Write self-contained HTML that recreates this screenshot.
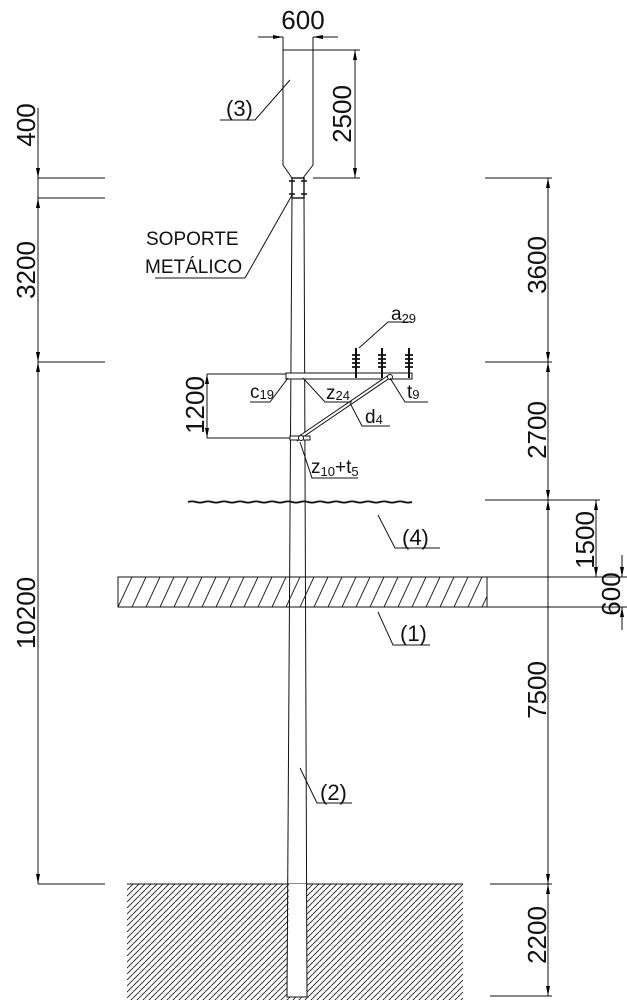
<!DOCTYPE html>
<html><head><meta charset="utf-8"><style>html,body{margin:0;padding:0;background:#fff}svg{display:block}</style></head>
<body>
<svg width="627" height="1000" viewBox="0 0 627 1000" xmlns="http://www.w3.org/2000/svg" font-family="Liberation Sans, sans-serif">
<defs>
<marker id="a" viewBox="0 0 10 4" refX="10" refY="2" markerWidth="10" markerHeight="4" markerUnits="userSpaceOnUse" orient="auto"><path d="M0,0L10,2L0,4z" fill="#000"/></marker>
<marker id="s" viewBox="0 0 10 4" refX="0" refY="2" markerWidth="10" markerHeight="4" markerUnits="userSpaceOnUse" orient="auto"><path d="M10,0L0,2L10,4z" fill="#000"/></marker>
<pattern id="h1" width="14" height="30" patternUnits="userSpaceOnUse" x="118" y="577"><path d="M-14,30L0,0M0,30L14,0M14,30L28,0" stroke="#222" stroke-width="1"/></pattern>
<pattern id="h2" width="6" height="6" patternUnits="userSpaceOnUse" x="127" y="884"><path d="M-6,6L0,0M0,6L6,0M6,6L12,0" stroke="#222" stroke-width="0.9"/></pattern>
</defs>
<g stroke="#111" stroke-width="1" fill="none">
<rect x="127" y="884" width="336" height="116" fill="url(#h2)" stroke="none"/>
<line x1="127" y1="884" x2="463" y2="884"/>
<rect x="118" y="577" width="369" height="30" fill="url(#h1)"/>
<line x1="487" y1="577" x2="627" y2="577"/><line x1="487" y1="607" x2="627" y2="607"/>
<!-- pole -->
<polygon points="289,884 306,884 307,997 287,997" fill="#fff" stroke="none"/>
<polygon points="292,198 304,198 307,997 287,997"/>
<path d="M283,50 L313,50 L313,165 L303,178 L292,178 L283,165 Z" fill="#fff"/>
<rect x="292" y="178" width="12" height="20" fill="#fff" stroke-width="1.4"/>
<path d="M289,181h6M289,194h6M301,181h6M301,194h6" stroke-width="1.5"/>
<line x1="283" y1="37" x2="283" y2="50"/><line x1="313" y1="37" x2="313" y2="50"/>
<line x1="258" y1="37" x2="283" y2="37" marker-end="url(#a)"/>
<line x1="338" y1="37" x2="313" y2="37" marker-end="url(#a)"/>
<line x1="313" y1="50" x2="360" y2="50"/><line x1="313" y1="178" x2="360" y2="178"/>
<line x1="355" y1="50" x2="355" y2="178" marker-start="url(#s)" marker-end="url(#a)"/>
<line x1="38" y1="108" x2="38" y2="178" marker-end="url(#a)"/>
<line x1="38" y1="178" x2="38" y2="198"/>
<line x1="38" y1="198" x2="38" y2="362" marker-start="url(#s)" marker-end="url(#a)"/>
<line x1="38" y1="362" x2="38" y2="884" marker-start="url(#s)" marker-end="url(#a)"/>
<path d="M38,178H105M38,198H105M38,362H105M38,884H105"/>
<path d="M485,178H552M485,362H552M485,500H600M490,884H552M490,996H552"/>
<line x1="548" y1="178" x2="548" y2="362" marker-start="url(#s)" marker-end="url(#a)"/>
<line x1="548" y1="362" x2="548" y2="500" marker-start="url(#s)" marker-end="url(#a)"/>
<line x1="548" y1="500" x2="548" y2="884" marker-start="url(#s)" marker-end="url(#a)"/>
<line x1="548" y1="884" x2="548" y2="996" marker-start="url(#s)" marker-end="url(#a)"/>
<line x1="596" y1="500" x2="596" y2="577" marker-start="url(#s)" marker-end="url(#a)"/>
<line x1="622" y1="555" x2="622" y2="577" marker-end="url(#a)"/>
<line x1="622" y1="630" x2="622" y2="607" marker-end="url(#a)"/>
<path d="M207,374H290M207,438H296"/>
<line x1="207" y1="374" x2="207" y2="438" marker-start="url(#s)" marker-end="url(#a)"/>
<rect x="286" y="373" width="126" height="6" fill="#fff"/>
<line x1="296" y1="440" x2="390" y2="376" stroke-width="4"/>
<line x1="296" y1="440" x2="390" y2="376" stroke="#fff" stroke-width="2"/>
<rect x="290" y="436" width="20" height="4" fill="#fff"/>
<circle cx="301" cy="438" r="2.5" fill="#fff"/><circle cx="390" cy="377" r="2.5" fill="#fff"/>
<g>
<path d="M356,348V378M382,348V378M409,348V378" stroke-width="2"/>
<path d="M352,355h8M352,359h8M352,363h8M352,367h8M378,355h8M378,359h8M378,363h8M378,367h8M405,355h8M405,359h8M405,363h8M405,367h8" stroke-width="1.8"/>
</g>
<path d="M188,502 q4,-1.2 8,0 t8,0 t8,0 t8,0 t8,0 t8,0 t8,0 t8,0 t8,0 t8,0 t8,0 t8,0 t8,0 t8,0 t8,0 t8,0 t8,0 t8,0 t8,0 t8,0 t8,0 t8,0 t8,0 t8,0 t8,0 t8,0 t8,0 t8,0" stroke-width="1.8"/>
<path d="M220,120H255L290,80"/>
<path d="M155,278H245L292,195"/>
<path d="M359,348L388,322H412"/>
<path d="M250,402H270L288,378"/>
<path d="M303,378L325,402H352"/>
<path d="M390,378L405,402H428"/>
<path d="M350,403L362,426H390"/>
<path d="M300,442L312,478H358"/>
<path d="M378,515L395,548H440"/>
<path d="M378,612L393,645H430"/>
<path d="M300,768L317,803H352"/>
</g>
<g fill="#111" font-size="26">
<text x="303" y="29" text-anchor="middle">600</text>
<text transform="translate(351,114) rotate(-90)" text-anchor="middle">2500</text>
<text transform="translate(35,125) rotate(-90)" text-anchor="middle">400</text>
<text transform="translate(35,270) rotate(-90)" text-anchor="middle">3200</text>
<text transform="translate(35,613) rotate(-90)" text-anchor="middle">10200</text>
<text transform="translate(204,405) rotate(-90)" text-anchor="middle">1200</text>
<text transform="translate(546,265) rotate(-90)" text-anchor="middle">3600</text>
<text transform="translate(546,430) rotate(-90)" text-anchor="middle">2700</text>
<text transform="translate(546,690) rotate(-90)" text-anchor="middle">7500</text>
<text transform="translate(546,935) rotate(-90)" text-anchor="middle">2200</text>
<text transform="translate(594,540) rotate(-90)" text-anchor="middle">1500</text>
<text transform="translate(620,594) rotate(-90)" text-anchor="middle">600</text>
</g>
<g fill="#111" font-size="22">
<text x="226" y="116">(3)</text>
<text x="402" y="545">(4)</text>
<text x="400" y="641">(1)</text>
<text x="320" y="800">(2)</text>
</g>
<g fill="#111" font-size="19">
<text x="146" y="245">SOPORTE</text>
<text x="145" y="273">METÁLICO</text>
<text x="391" y="320">a<tspan font-size="13" dy="3">29</tspan></text>
<text x="250" y="398">c<tspan font-size="13" dy="1">19</tspan></text>
<text x="326" y="399">z<tspan font-size="13" dy="1">24</tspan></text>
<text x="407" y="398">t<tspan font-size="13" dy="1">9</tspan></text>
<text x="365" y="423">d<tspan font-size="13" dy="1">4</tspan></text>
<text x="311" y="473">z<tspan font-size="13" dy="3">10</tspan><tspan dy="-3">+t</tspan><tspan font-size="13" dy="3">5</tspan></text>
</g>
</svg>
</body></html>
